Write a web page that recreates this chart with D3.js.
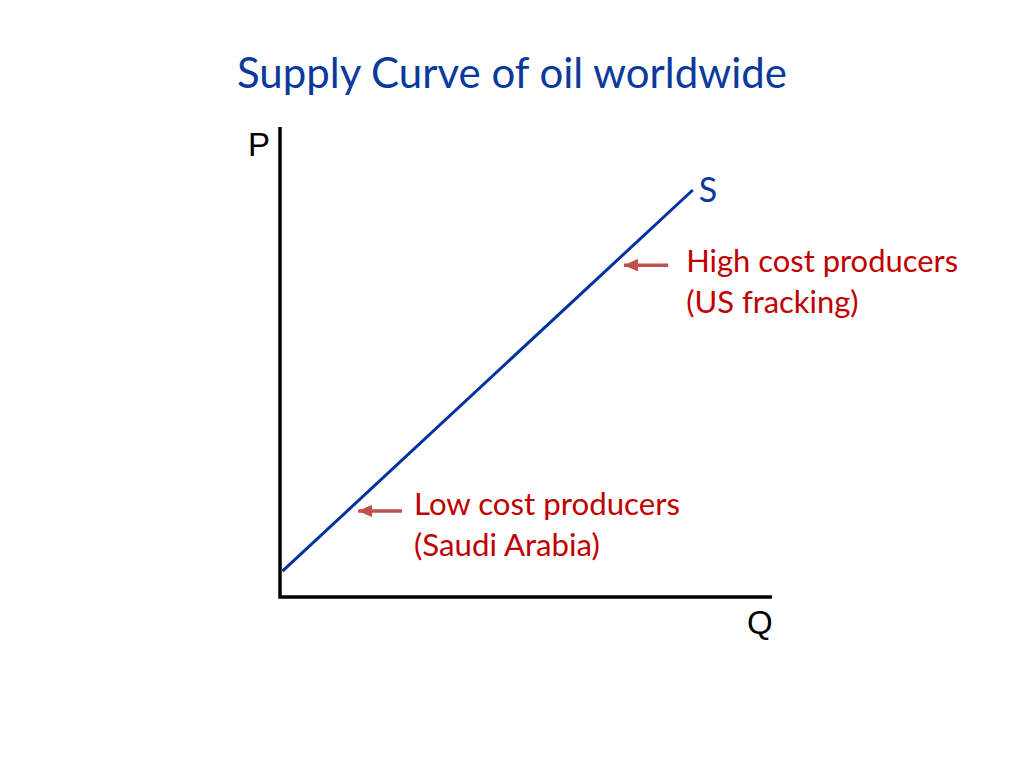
<!DOCTYPE html>
<html>
<head>
<meta charset="utf-8">
<script src="https://cdn.jsdelivr.net/npm/d3@7"></script>
<style>
  html, body { margin: 0; padding: 0; background: #fff; overflow: hidden; }
  svg { display: block; }
</style>
</head>
<body>
<svg id="chart"></svg>
<script>
// supply curve S (q, p) in axis units 0..10
const supplyQ = [0.05, 8.39];
const supplyP = [0.55, 8.66];

// annotation arrows: tail -> tip, and their labels
const noteLabels = [
  ["Low cost producers", "(Saudi Arabia)"],
  ["High cost producers", "(US fracking)"]
];
const noteTailQ = [2.48, 7.89];
const noteTipQ = [1.59, 6.99];
const noteP = [1.83, 7.06];

const titleText = "Supply Curve of oil worldwide";
const axisLabels = ["P", "Q", "S"];

const width = 1024, height = 768;
const margin = { top: 127, right: 252, bottom: 171, left: 280 };
const innerWidth = width - margin.left - margin.right;
const innerHeight = height - margin.top - margin.bottom;

const svg = d3.select("#chart")
  .attr("width", width)
  .attr("height", height);

const x = d3.scaleLinear().domain([0, 10]).range([margin.left, margin.left + innerWidth]);
const y = d3.scaleLinear().domain([0, 10]).range([margin.top + innerHeight, margin.top]);

const blue = "#0b3a9c";
const red = "#c00000";
const arrowRed = "#c0504d";
const bodyFont = "Lato, 'Open Sans', sans-serif";

// fit a text element to a target width by adjusting font size
function fitText(sel, target) {
  const w = sel.node().getComputedTextLength();
  const fs = parseFloat(sel.attr("font-size"));
  sel.attr("font-size", fs * target / w);
}

// title
const title = svg.append("text")
  .attr("x", 237)
  .attr("y", 88)
  .attr("font-family", bodyFont)
  .attr("font-size", 40)
  .attr("fill", blue)
  .text(titleText);
fitText(title, 550);

svg.append("defs").append("marker")
  .attr("id", "head")
  .attr("viewBox", "0 0 10 10")
  .attr("refX", 10)
  .attr("refY", 5)
  .attr("markerWidth", 4)
  .attr("markerHeight", 3.6)
  .attr("markerUnits", "strokeWidth")
  .attr("orient", "auto")
  .attr("preserveAspectRatio", "none")
  .append("path")
  .attr("d", "M0,0 L10,5 L0,10 z")
  .attr("fill", arrowRed);

// axes
svg.append("path")
  .attr("d", d3.line()([[x(0), y(10)], [x(0), y(0)], [x(10), y(0)]]))
  .attr("fill", "none")
  .attr("stroke", "#000")
  .attr("stroke-width", 3.5);

svg.append("text")
  .attr("x", 248)
  .attr("y", 156)
  .attr("font-family", "'Liberation Sans', Arial, sans-serif")
  .attr("font-size", 33)
  .text(axisLabels[0]);

svg.append("text")
  .attr("x", 747)
  .attr("y", 634)
  .attr("font-family", "'Liberation Sans', Arial, sans-serif")
  .attr("font-size", 33)
  .text(axisLabels[1]);

// supply line
const supply = d3.zip(supplyQ, supplyP);
svg.append("path")
  .attr("d", d3.line().x(d => x(d[0])).y(d => y(d[1]))(supply))
  .attr("fill", "none")
  .attr("stroke", "#0033a0")
  .attr("stroke-width", 3);

svg.append("text")
  .attr("x", x(supplyQ[1]) + 6)
  .attr("y", 202)
  .attr("font-family", bodyFont)
  .attr("font-size", 34)
  .attr("fill", blue)
  .text(axisLabels[2]);

// annotations
const labelWidths = [266, 272];
const labelDx = [12, 18];
const labelDy = [4, 7];
noteLabels.forEach((lines, i) => {
  svg.append("line")
    .attr("x1", x(noteTailQ[i]))
    .attr("x2", x(noteTipQ[i]))
    .attr("y1", y(noteP[i]))
    .attr("y2", y(noteP[i]))
    .attr("stroke", arrowRed)
    .attr("stroke-width", 3.5)
    .attr("marker-end", "url(#head)");

  const tx = x(noteTailQ[i]) + labelDx[i];
  const ty = y(noteP[i]) + labelDy[i];
  const first = svg.append("text")
    .attr("x", tx)
    .attr("y", ty)
    .attr("font-family", bodyFont)
    .attr("font-size", 30)
    .attr("fill", red)
    .text(lines[0]);
  fitText(first, labelWidths[i]);
  svg.append("text")
    .attr("x", tx)
    .attr("y", ty + 41)
    .attr("font-family", bodyFont)
    .attr("font-size", first.attr("font-size"))
    .attr("fill", red)
    .text(lines[1]);
});
</script>
</body>
</html>
